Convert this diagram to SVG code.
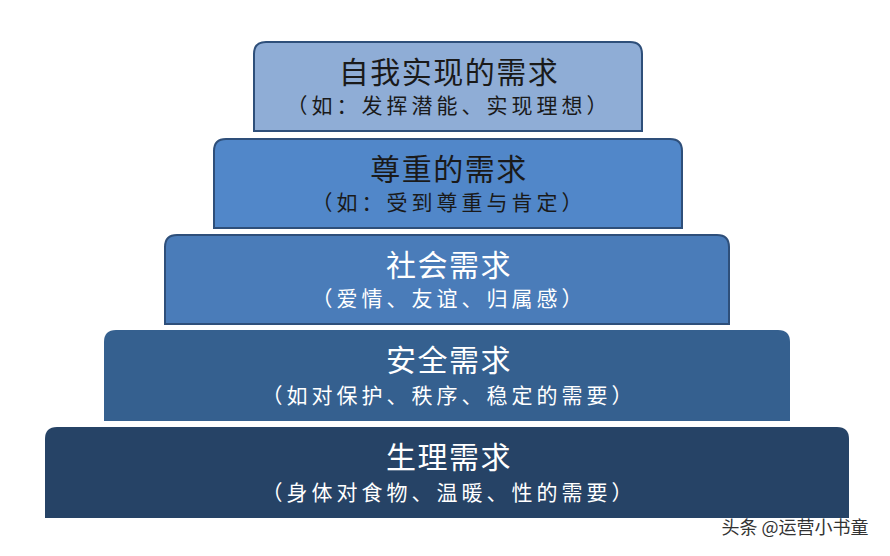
<svg xmlns="http://www.w3.org/2000/svg" width="890" height="556" viewBox="0 0 890 556">
<style>
.t{font-family:"Noto Sans CJK SC","Noto Sans",sans-serif;text-anchor:middle}
.m{font-size:30px;letter-spacing:1.5px}.s{font-size:21px;letter-spacing:4px}
.d{fill:#1a1a1a}.w{fill:#ffffff}
.b{stroke:#2e4f7a;stroke-width:2}
</style>
<rect width="890" height="556" fill="#ffffff"/>
<g id="n1"><path class="b" d="M254,131 V54 Q254,42 266,42 H630 Q642,42 642,54 V131 Z" fill="#8fadd6"/>
<text class="t m d" x="449" y="83">自我实现的需求</text><text class="t s d" x="449" y="113">（如：发挥潜能、实现理想）</text></g>
<g id="n2"><path class="b" d="M214,228 V151 Q214,139 226,139 H670 Q682,139 682,151 V228 Z" fill="#5187c9"/>
<text class="t m d" x="449" y="180">尊重的需求</text><text class="t s d" x="449" y="210">（如：受到尊重与肯定）</text></g>
<g id="n3"><path class="b" d="M165,324 V247 Q165,235 177,235 H717 Q729,235 729,247 V324 Z" fill="#4a7cb9"/>
<text class="t m w" x="449" y="276">社会需求</text><text class="t s w" x="449" y="306">（爱情、友谊、归属感）</text></g>
<g id="n4"><path d="M104,421 V342 Q104,330 116,330 H778 Q790,330 790,342 V421 Z" fill="#35608f"/>
<text class="t m w" x="449" y="371">安全需求</text><text class="t s w" x="449" y="403">（如对保护、秩序、稳定的需要）</text></g>
<g id="n5"><path d="M45,518 V439 Q45,427 57,427 H837 Q849,427 849,439 V518 Z" fill="#264366"/>
<text class="t m w" x="449" y="468">生理需求</text><text class="t s w" x="449" y="500">（身体对食物、温暖、性的需要）</text></g>
<g id="connectors"></g>
<text class="t" x="795" y="534" font-size="18" fill="#333333">头条 @运营小书童</text>
</svg>
